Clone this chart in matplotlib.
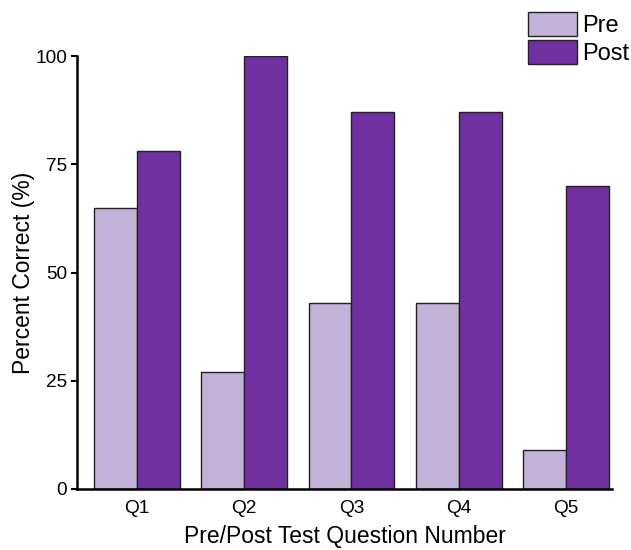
import numpy as np
import matplotlib.pyplot as plt

plt.rcParams['font.family'] = ['Liberation Sans', 'DejaVu Sans']

questions = ['Q1', 'Q2', 'Q3', 'Q4', 'Q5']
pre = [65, 27, 43, 43, 9]
post = [78, 100, 87, 87, 70]

x = np.arange(len(questions))
w = 0.4

fig = plt.figure(figsize=(6.31, 5.5), dpi=100)
ax = fig.add_axes([0.122, 0.111, 0.848, 0.787])

ax.bar(x - w / 2, pre, w, color='#c2b2d7', edgecolor='#222222', linewidth=1, label='Pre')
ax.bar(x + w / 2, post, w, color='#7030a0', edgecolor='#222222', linewidth=1, label='Post')

ax.set_xlim(-0.56, 4.43)
ax.set_ylim(0, 100)
ax.set_yticks([0, 25, 50, 75, 100])
ax.set_xticks(x)
ax.set_xticklabels(questions)
ax.tick_params(axis='x', length=0, pad=8, labelsize=13.7)
ax.tick_params(axis='y', length=4, width=1.5, labelsize=13.7, pad=3)
for s in ['top', 'right']:
    ax.spines[s].set_visible(False)
for s in ['left', 'bottom']:
    ax.spines[s].set_linewidth(1.8)

ax.set_ylabel('Percent Correct (%)', fontsize=16.5, labelpad=0)
ax.set_xlabel('Pre/Post Test Question Number', fontsize=16.5, labelpad=6)

fig.legend(loc='upper left', bbox_to_anchor=(0.836, 0.978), frameon=False,
           fontsize=17, handlelength=2.1, handleheight=1.2, labelspacing=0.1,
           handletextpad=0.2, borderpad=0, borderaxespad=0)

fig.savefig('out.png', dpi=100)
